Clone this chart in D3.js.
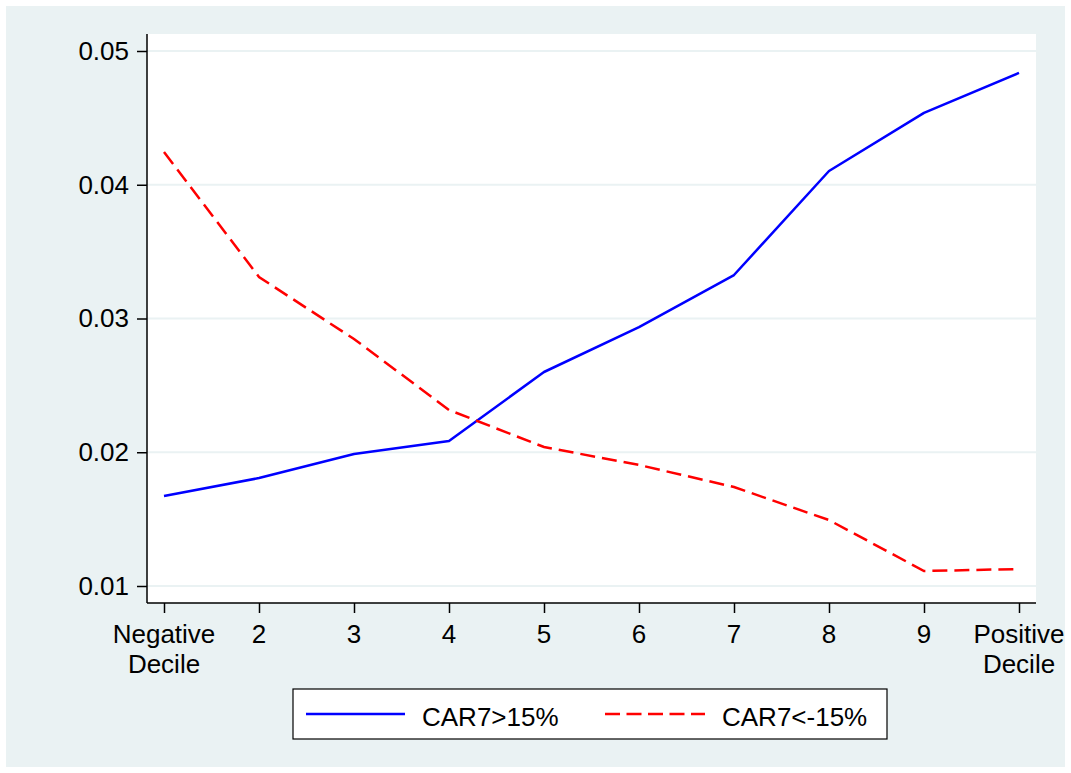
<!DOCTYPE html>
<html>
<head>
<meta charset="utf-8">
<script src="https://cdn.jsdelivr.net/npm/d3@7"></script>
<style>
  html, body { margin: 0; padding: 0; background: #ffffff; }
  svg { display: block; font-family: "Liberation Sans", Arial, sans-serif; }
</style>
</head>
<body>
<svg id="chart" width="1071" height="773"></svg>
<script>
// Decile positions along the x axis
const deciles = [1, 2, 3, 4, 5, 6, 7, 8, 9, 10];
const decileLabels = [["Negative", "Decile"], ["2"], ["3"], ["4"], ["5"], ["6"], ["7"], ["8"], ["9"], ["Positive", "Decile"]];

// Series values per decile
const carAbove15 = [0.01673, 0.01807, 0.01987, 0.02084, 0.0260, 0.02936, 0.03325, 0.04103, 0.04537, 0.04836];
const carBelowMinus15 = [0.04245, 0.0331, 0.02847, 0.02316, 0.02039, 0.01905, 0.0174, 0.01493, 0.01112, 0.01127];

const yTicks = [0.01, 0.02, 0.03, 0.04, 0.05];
const seriesNames = ["CAR7>15%", "CAR7<-15%"];

const svg = d3.select("#chart");
const W = 1071, H = 773;
const plot = { left: 147, right: 1036, top: 34, bottom: 603 };
const tickFont = 26;

// Outer graph background
svg.append("rect").attr("x", 6).attr("y", 6).attr("width", W - 12).attr("height", H - 12)
  .attr("fill", "#EAF2F3");
// Plot region
svg.append("rect").attr("x", plot.left).attr("y", plot.top)
  .attr("width", plot.right - plot.left).attr("height", plot.bottom - plot.top)
  .attr("fill", "#ffffff");

const x = d3.scaleLinear().domain([1, 10]).range([164, 1019]);
const y = d3.scaleLinear().domain([0.01, 0.05]).range([586, 51]);

// Horizontal grid lines
svg.append("g").selectAll("line").data(yTicks).join("line")
  .attr("x1", plot.left).attr("x2", plot.right)
  .attr("y1", d => y(d)).attr("y2", d => y(d))
  .attr("stroke", "#EAF2F3").attr("stroke-width", 2);

// Y axis
const yAxis = svg.append("g").attr("transform", `translate(${plot.left},0)`)
  .call(d3.axisLeft(y).tickValues(yTicks).tickFormat(d3.format(".2f")).tickSize(10).tickPadding(8));
yAxis.select(".domain").remove();
yAxis.append("line").attr("x1", 0).attr("x2", 0).attr("y1", plot.top).attr("y2", plot.bottom)
  .attr("stroke", "#000").attr("stroke-width", 1.5);
yAxis.selectAll(".tick line").attr("stroke", "#000").attr("stroke-width", 1.5);
yAxis.selectAll(".tick text").attr("font-size", tickFont).attr("fill", "#000")
  .attr("font-family", "Liberation Sans, Arial, sans-serif");

// X axis
const xAxis = svg.append("g").attr("transform", `translate(0,${plot.bottom})`)
  .call(d3.axisBottom(x).tickValues(deciles).tickFormat("").tickSize(10));
xAxis.select(".domain").remove();
xAxis.append("line").attr("x1", plot.left).attr("x2", plot.right).attr("y1", 0).attr("y2", 0)
  .attr("stroke", "#000").attr("stroke-width", 1.5);
xAxis.selectAll(".tick line").attr("stroke", "#000").attr("stroke-width", 1.5);

// Decile labels, one text per line
const xl = svg.append("g");
deciles.forEach((d, i) => {
  decileLabels[i].forEach((txt, j) => {
    xl.append("text")
      .attr("x", x(d)).attr("y", 643 + j * 30)
      .attr("text-anchor", "middle").attr("font-size", tickFont).attr("fill", "#000")
      .text(txt);
  });
});

// Series lines
const line = d3.line().x((d, i) => x(deciles[i])).y(d => y(d));
svg.append("path").datum(carAbove15).attr("d", line)
  .attr("fill", "none").attr("stroke", "#0000FF").attr("stroke-width", 2.5)
  .attr("stroke-linejoin", "round");
svg.append("path").datum(carBelowMinus15).attr("d", line)
  .attr("fill", "none").attr("stroke", "#FF0000").attr("stroke-width", 2.5)
  .attr("stroke-dasharray", "15,7");

// Legend
const lg = svg.append("g");
lg.append("rect").attr("x", 293).attr("y", 689).attr("width", 594).attr("height", 50)
  .attr("fill", "#ffffff").attr("stroke", "#000").attr("stroke-width", 1.2);
lg.append("line").attr("x1", 306).attr("x2", 405).attr("y1", 714).attr("y2", 714)
  .attr("stroke", "#0000FF").attr("stroke-width", 2.5);
lg.append("text").attr("x", 422).attr("y", 726).attr("font-size", 26).attr("fill", "#000").text(seriesNames[0]);
lg.append("line").attr("x1", 605).attr("x2", 705).attr("y1", 714).attr("y2", 714)
  .attr("stroke", "#FF0000").attr("stroke-width", 2.5).attr("stroke-dasharray", "15,6.5");
lg.append("text").attr("x", 722).attr("y", 726).attr("font-size", 26).attr("fill", "#000").text(seriesNames[1]);
</script>
</body>
</html>
